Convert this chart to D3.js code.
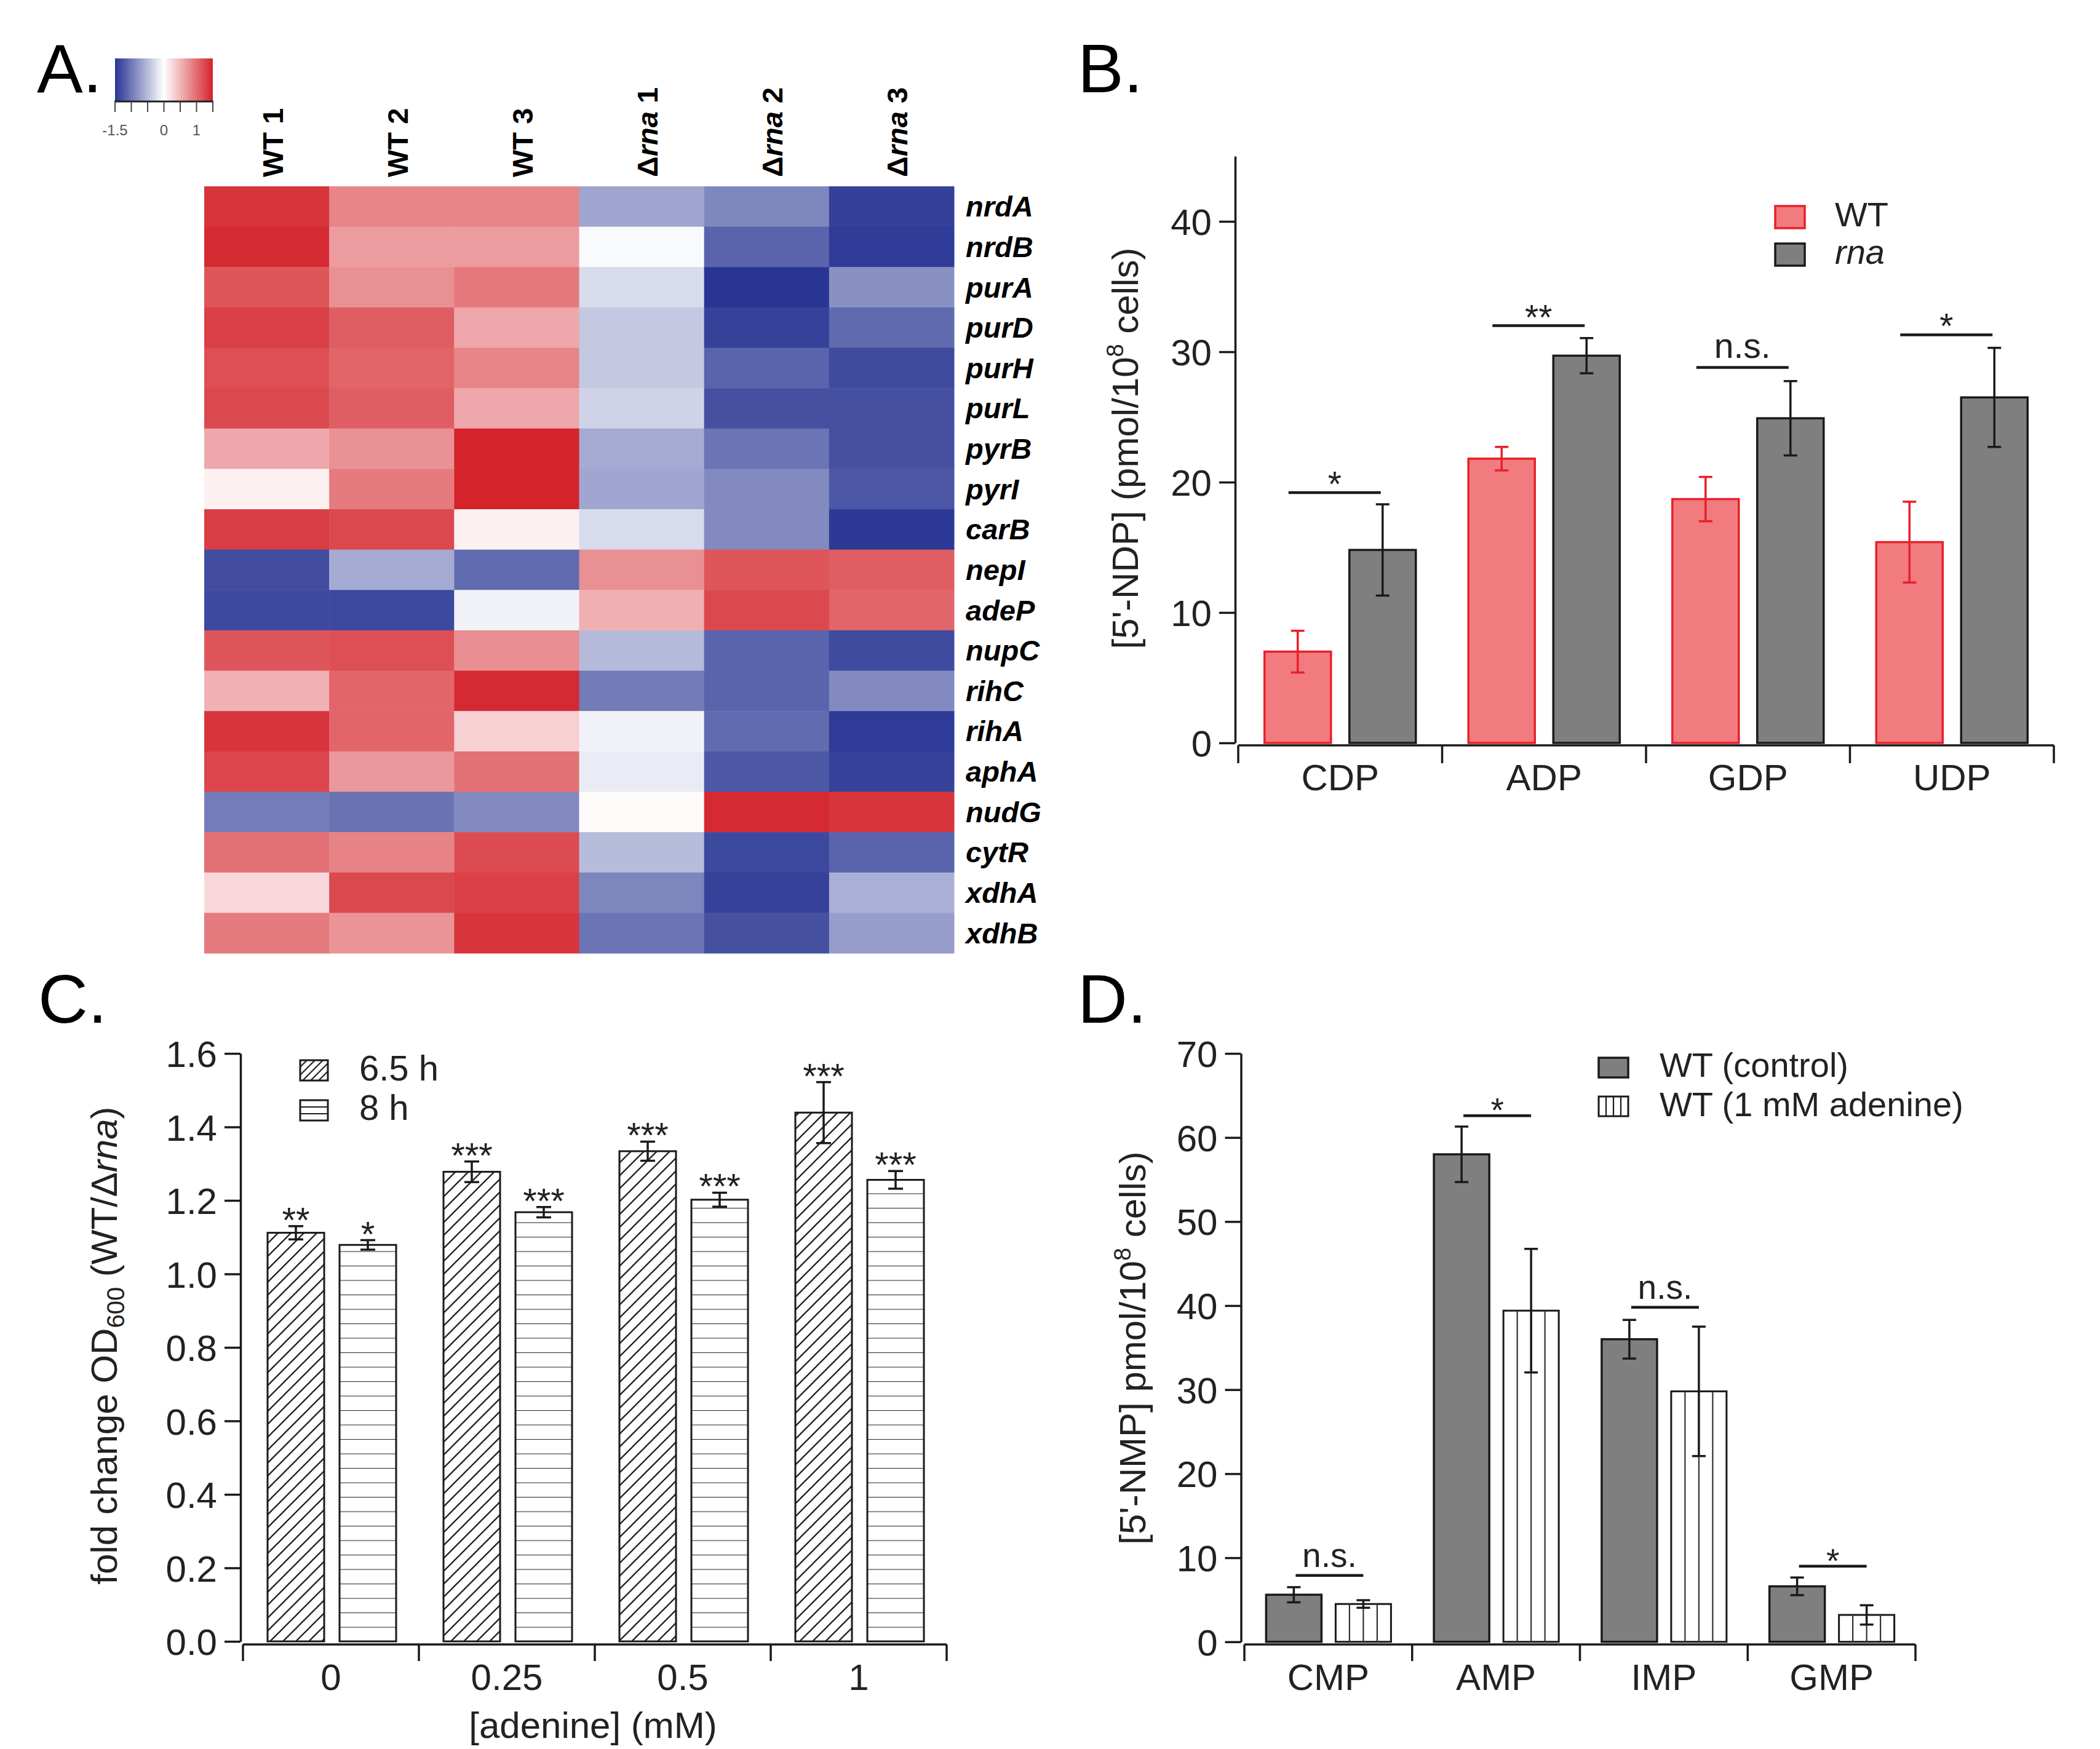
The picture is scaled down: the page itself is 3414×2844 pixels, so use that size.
<!DOCTYPE html>
<html><head><meta charset="utf-8">
<script src="https://cdn.jsdelivr.net/npm/d3@7"></script>
<style>body{margin:0;background:#fff}svg{display:block}</style>
</head><body>
<script>
// ---------- DATA ----------
const heatGenes = ["nrdA","nrdB","purA","purD","purH","purL","pyrB","pyrI","carB","nepI","adeP","nupC","rihC","rihA","aphA","nudG","cytR","xdhA","xdhB"];
const heatSamples = ["WT 1","WT 2","WT 3","Δrna 1","Δrna 2","Δrna 3"];
const heatValues = [
  [1.38,0.83,0.83,-0.67,-0.89,-1.41],
  [1.45,0.68,0.68,-0.04,-1.15,-1.45],
  [1.16,0.76,0.92,-0.27,-1.50,-0.82],
  [1.30,1.10,0.60,-0.41,-1.40,-1.11],
  [1.20,1.06,0.83,-0.41,-1.15,-1.34],
  [1.25,1.10,0.60,-0.33,-1.30,-1.30],
  [0.59,0.75,1.50,-0.63,-1.03,-1.30],
  [0.10,0.90,1.50,-0.66,-0.87,-1.25],
  [1.32,1.25,0.10,-0.27,-0.87,-1.47],
  [-1.32,-0.63,-1.10,0.76,1.16,1.10],
  [-1.35,-1.35,-0.10,0.54,1.25,1.05],
  [1.15,1.20,0.77,-0.51,-1.15,-1.34],
  [0.53,1.05,1.45,-0.98,-1.15,-0.87],
  [1.38,1.05,0.32,-0.10,-1.10,-1.45],
  [1.27,0.70,0.97,-0.15,-1.25,-1.40],
  [-0.97,-1.04,-0.87,0.03,1.45,1.38],
  [0.97,0.85,1.22,-0.50,-1.35,-1.15],
  [0.27,1.25,1.30,-0.90,-1.40,-0.59],
  [0.90,0.73,1.38,-1.03,-1.30,-0.73]
];
const colorTicks = [-1.5,-1,-0.5,0,0.5,1,1.5];
const colorTickLabels = [-1.5,0,1];

const ndpCats = ["CDP","ADP","GDP","UDP"];
const ndpWT = [7.0,21.8,18.7,15.4];
const ndpWTErr = [1.6,0.9,1.7,3.1];
const ndpRna = [14.8,29.7,24.9,26.5];
const ndpRnaErr = [3.5,1.35,2.85,3.8];
const ndpSig = ["*","**","n.s.","*"];
const ndpSigY = [19.2,32.0,28.8,31.3];
const ndpTicks = [0,10,20,30,40];

const adenineCats = ["0","0.25","0.5","1"];
const od65 = [1.112,1.278,1.334,1.439];
const od65Err = [0.018,0.028,0.026,0.083];
const od8 = [1.079,1.168,1.202,1.256];
const od8Err = [0.013,0.014,0.019,0.024];
const od65Sig = ["**","***","***","***"];
const od8Sig = ["*","***","***","***"];
const odTicks = [0,0.2,0.4,0.6,0.8,1.0,1.2,1.4,1.6];

const nmpCats = ["CMP","AMP","IMP","GMP"];
const nmpCtrl = [5.6,58.0,36.0,6.6];
const nmpCtrlErr = [0.9,3.3,2.3,1.05];
const nmpAde = [4.5,39.4,29.8,3.2];
const nmpAdeErr = [0.45,7.35,7.7,1.15];
const nmpSig = ["n.s.","*","n.s.","*"];
const nmpSigY = [7.9,62.6,39.8,9.0];
const nmpTicks = [0,10,20,30,40,50,60,70];

// ---------- SETUP ----------
const FONT = "'Liberation Sans', Arial, Helvetica, sans-serif";
const INK = "#1a1a1a";
const svg = d3.select("body").append("svg").attr("width",3414).attr("height",2844)
  .style("font-family",FONT);
const defs = svg.append("defs");

function panelLabel(t,x,y){
  svg.append("text").attr("x",x).attr("y",y).attr("font-size",112).attr("fill","#000").text(t);
}
panelLabel("A.",60,150); panelLabel("B.",1752,150); panelLabel("C.",62,1663); panelLabel("D.",1752,1663);

// ---------- PANEL A ----------
const color = d3.scaleLinear().domain([-1.5,0,1.5]).range(["#283593","#ffffff","#d4232a"]);
const hx = d3.scaleBand().domain(heatSamples).range([332,1551]);
const hy = d3.scaleBand().domain(heatGenes).range([303,1550]);
const gA = svg.append("g");
heatValues.forEach((row,i)=>{
  gA.selectAll(null).data(row).join("rect")
    .attr("x",(d,j)=>hx(heatSamples[j])).attr("y",hy(heatGenes[i]))
    .attr("width",hx.bandwidth()+0.5).attr("height",hy.bandwidth()+0.5)
    .attr("fill",d=>color(d));
});
gA.selectAll(".gene").data(heatGenes).join("text")
  .attr("x",1570).attr("y",d=>hy(d)+hy.bandwidth()/2).attr("dy","0.35em")
  .attr("font-size",47).attr("font-weight","bold").attr("font-style","italic").text(d=>d);
heatSamples.forEach(s=>{
  const cx = hx(s)+hx.bandwidth()/2 + 26;
  const t = gA.append("text").attr("transform",`translate(${cx},288) rotate(-90)`)
    .attr("font-size",47).attr("font-weight","bold");
  if(s.startsWith("Δ")){
    const parts = s.split(" ");
    t.append("tspan").text("Δ");
    t.append("tspan").attr("font-style","italic").text(parts[0].slice(1));
    t.append("tspan").text(" "+parts[1]);
  } else t.text(s);
});
// colorbar
const cb = d3.scaleLinear().domain([-1.5,1.5]).range([187,346]);
const grad = defs.append("linearGradient").attr("id","cbgrad");
d3.range(0,1.0001,0.05).forEach(f=>{
  grad.append("stop").attr("offset",f).attr("stop-color",color(-1.5+3*f));
});
gA.append("rect").attr("x",187).attr("y",95).attr("width",159).attr("height",70).attr("fill","url(#cbgrad)");
gA.append("line").attr("x1",186).attr("x2",347).attr("y1",165).attr("y2",165).attr("stroke","#222").attr("stroke-width",3);
gA.selectAll(".cbt").data(colorTicks).join("line")
  .attr("x1",d=>cb(d)).attr("x2",d=>cb(d)).attr("y1",165).attr("y2",182)
  .attr("stroke","#444").attr("stroke-width",2);
gA.selectAll(".cbl").data(colorTickLabels).join("text")
  .attr("x",d=>cb(d)).attr("y",220).attr("text-anchor","middle")
  .attr("font-size",24).attr("fill","#555").text(d=>d);

// ---------- helpers ----------
function yAxis(scale,x,ticks,fmt){
  const g = svg.append("g").attr("transform",`translate(${x},0)`)
    .call(d3.axisLeft(scale).tickValues(ticks).tickSize(26).tickSizeOuter(0).tickPadding(12).tickFormat(fmt));
  g.select(".domain").attr("stroke",INK).attr("stroke-width",3.5);
  g.selectAll(".tick line").attr("stroke",INK).attr("stroke-width",3.5);
  g.selectAll(".tick text").attr("font-size",60).attr("font-family",FONT).attr("fill","#222").attr("dy","0.36em");
  return g;
}
function xAxis(band,y,tickLen,labelY){
  const [r0,r1] = band.range();
  svg.append("line").attr("x1",r0).attr("x2",r1).attr("y1",y).attr("y2",y).attr("stroke",INK).attr("stroke-width",3.5);
  const bounds = band.domain().map(c=>band(c)).concat([r1]);
  svg.selectAll(null).data(bounds).join("line")
    .attr("x1",d=>d).attr("x2",d=>d).attr("y1",y).attr("y2",y+tickLen)
    .attr("stroke",INK).attr("stroke-width",3.5);
  svg.selectAll(null).data(band.domain()).join("text")
    .attr("x",d=>band(d)+band.bandwidth()/2).attr("y",labelY).attr("text-anchor","middle")
    .attr("font-size",60).attr("fill","#222").text(d=>d);
}
function errBars(xs,vals,errs,scale,col,cap){
  vals.forEach((v,i)=>{
    const g = svg.append("g").attr("stroke",col).attr("stroke-width",3.5);
    const x = xs[i], y1 = scale(v+errs[i]), y0 = scale(v-errs[i]);
    g.append("line").attr("x1",x).attr("x2",x).attr("y1",y1).attr("y2",y0);
    g.append("line").attr("x1",x-cap/2).attr("x2",x+cap/2).attr("y1",y1).attr("y2",y1);
    g.append("line").attr("x1",x-cap/2).attr("x2",x+cap/2).attr("y1",y0).attr("y2",y0);
  });
}
function rotLabel(x,y,build){
  const t = svg.append("text").attr("transform",`translate(${x},${y}) rotate(-90)`)
    .attr("text-anchor","middle").attr("font-size",60).attr("fill","#222");
  build(t);
}

// ---------- PANEL B ----------
const yB = d3.scaleLinear().domain([0,45]).range([1208,254]);
const xB = d3.scaleBand().domain(ndpCats).range([2013,3339]);
const cB = c=>xB(c)+xB.bandwidth()/2;
const wB = 108;
yAxis(yB,2008,ndpTicks,d3.format("d"));
xAxis(xB,1212,29,1285);
svg.selectAll(null).data(ndpWT).join("rect")
  .attr("x",(d,i)=>cB(ndpCats[i])-69-wB/2).attr("width",wB)
  .attr("y",d=>yB(d)).attr("height",d=>yB(0)-yB(d))
  .attr("fill","#f27b7f").attr("stroke","#e8202a").attr("stroke-width",3.5);
svg.selectAll(null).data(ndpRna).join("rect")
  .attr("x",(d,i)=>cB(ndpCats[i])+69-wB/2).attr("width",wB)
  .attr("y",d=>yB(d)).attr("height",d=>yB(0)-yB(d))
  .attr("fill","#7f7f7f").attr("stroke",INK).attr("stroke-width",3.5);
errBars(ndpCats.map(c=>cB(c)-69),ndpWT,ndpWTErr,yB,"#e8202a",22);
errBars(ndpCats.map(c=>cB(c)+69),ndpRna,ndpRnaErr,yB,INK,22);
ndpCats.forEach((c,i)=>{
  const cx = cB(c)-9, y = yB(ndpSigY[i]);
  svg.append("line").attr("x1",cx-75).attr("x2",cx+75).attr("y1",y).attr("y2",y).attr("stroke",INK).attr("stroke-width",4.5);
  const ns = ndpSig[i]==="n.s.";
  svg.append("text").attr("x",cx).attr("y",ns? y-15 : y+6).attr("text-anchor","middle")
    .attr("font-size",57).attr("fill","#222").text(ndpSig[i]);
});
// legend B
svg.append("rect").attr("x",2886).attr("y",335).attr("width",48).attr("height",36).attr("fill","#f27b7f").attr("stroke","#e8202a").attr("stroke-width",3.5);
svg.append("rect").attr("x",2886).attr("y",396).attr("width",48).attr("height",36).attr("fill","#7f7f7f").attr("stroke",INK).attr("stroke-width",3.5);
svg.append("text").attr("x",2983).attr("y",368).attr("font-size",56).attr("fill","#222").text("WT");
svg.append("text").attr("x",2983).attr("y",429).attr("font-size",56).attr("font-style","italic").attr("fill","#222").text("rna");
rotLabel(1850,729,t=>{
  t.append("tspan").text("[5'-NDP] (pmol/10");
  t.append("tspan").attr("font-size",38).attr("dy",-24).text("8");
  t.append("tspan").attr("dy",24).text(" cells)");
});

// ---------- PANEL C ----------
const yC = d3.scaleLinear().domain([0,1.6]).range([2669,1713]);
const xC = d3.scaleBand().domain(adenineCats).range([395,1539]);
const cC = c=>xC(c)+xC.bandwidth()/2;
const wC = 92;
// patterns
const pd = defs.append("pattern").attr("id","diag").attr("patternUnits","userSpaceOnUse").attr("width",21).attr("height",21);
pd.append("rect").attr("width",21).attr("height",21).attr("fill","#fff");
pd.append("path").attr("d","M0,21 L21,0 M-6,6 L6,-6 M15,27 L27,15").attr("stroke","#222").attr("stroke-width",2.3);
const pdS = defs.append("pattern").attr("id","diagS").attr("patternUnits","userSpaceOnUse").attr("width",13).attr("height",13);
pdS.append("rect").attr("width",13).attr("height",13).attr("fill","#fff");
pdS.append("path").attr("d","M0,13 L13,0 M-4,4 L4,-4 M9,17 L17,9").attr("stroke","#222").attr("stroke-width",2.2);
const ph = defs.append("pattern").attr("id","horiz").attr("patternUnits","userSpaceOnUse").attr("width",10).attr("height",23.5).attr("y",2669);
ph.append("rect").attr("width",10).attr("height",23.5).attr("fill","#fff");
ph.append("line").attr("x1",0).attr("x2",10).attr("y1",0).attr("y2",0).attr("stroke","#333").attr("stroke-width",2.2);

yAxis(yC,391,odTicks,d3.format(".1f"));
xAxis(xC,2674,27,2748);
svg.selectAll(null).data(od65).join("rect")
  .attr("x",(d,i)=>cC(adenineCats[i])-57-wC/2).attr("width",wC)
  .attr("y",d=>yC(d)).attr("height",d=>yC(0)-yC(d))
  .attr("fill","url(#diag)").attr("stroke",INK).attr("stroke-width",3);
svg.selectAll(null).data(od8).join("rect")
  .attr("x",(d,i)=>cC(adenineCats[i])+60-wC/2).attr("width",wC)
  .attr("y",d=>yC(d)).attr("height",d=>yC(0)-yC(d))
  .attr("fill","url(#horiz)").attr("stroke",INK).attr("stroke-width",3);
errBars(adenineCats.map(c=>cC(c)-57),od65,od65Err,yC,INK,24);
errBars(adenineCats.map(c=>cC(c)+60),od8,od8Err,yC,INK,24);
svg.selectAll(null).data(od65Sig).join("text")
  .attr("x",(d,i)=>cC(adenineCats[i])-57).attr("y",(d,i)=>yC(od65[i]+od65Err[i])+10)
  .attr("text-anchor","middle").attr("font-size",58).attr("fill","#222").text(d=>d);
svg.selectAll(null).data(od8Sig).join("text")
  .attr("x",(d,i)=>cC(adenineCats[i])+60).attr("y",(d,i)=>yC(od8[i]+od8Err[i])+10)
  .attr("text-anchor","middle").attr("font-size",58).attr("fill","#222").text(d=>d);
// legend C
svg.append("rect").attr("x",488).attr("y",1724).attr("width",45).attr("height",33).attr("fill","url(#diagS)").attr("stroke",INK).attr("stroke-width",3);
svg.append("rect").attr("x",488).attr("y",1789).attr("width",45).attr("height",33).attr("fill","#fff").attr("stroke",INK).attr("stroke-width",3);
[1/3,2/3].forEach(f=>svg.append("line").attr("x1",488).attr("x2",533).attr("y1",1789+33*f).attr("y2",1789+33*f).attr("stroke",INK).attr("stroke-width",2.2));
svg.append("text").attr("x",584).attr("y",1757).attr("font-size",58).attr("fill","#222").text("6.5 h");
svg.append("text").attr("x",584).attr("y",1821).attr("font-size",58).attr("fill","#222").text("8 h");
svg.append("text").attr("x",964).attr("y",2826).attr("text-anchor","middle").attr("font-size",60).attr("fill","#222").text("[adenine] (mM)");
rotLabel(190,2188,t=>{
  t.append("tspan").text("fold change OD");
  t.append("tspan").attr("font-size",40).attr("dy",12).text("600");
  t.append("tspan").attr("dy",-12).text(" (WT/Δ");
  t.append("tspan").attr("font-style","italic").text("rna");
  t.append("tspan").text(")");
});

// ---------- PANEL D ----------
const yD = d3.scaleLinear().domain([0,70]).range([2669.7,1713]);
const xD = d3.scaleBand().domain(nmpCats).range([2023,3114]);
const cD = c=>xD(c)+xD.bandwidth()/2;
const wD = 90;
yAxis(yD,2017.5,nmpTicks,d3.format("d"));
xAxis(xD,2674,27,2748);
svg.selectAll(null).data(nmpCtrl).join("rect")
  .attr("x",(d,i)=>cD(nmpCats[i])-56-wD/2).attr("width",wD)
  .attr("y",d=>yD(d)).attr("height",d=>yD(0)-yD(d))
  .attr("fill","#7f7f7f").attr("stroke",INK).attr("stroke-width",3.5);
const adeBars = svg.selectAll(null).data(nmpAde).join("g");
adeBars.append("rect")
  .attr("x",(d,i)=>cD(nmpCats[i])+57-wD/2).attr("width",wD)
  .attr("y",d=>yD(d)).attr("height",d=>yD(0)-yD(d))
  .attr("fill","#fff").attr("stroke",INK).attr("stroke-width",3);
adeBars.each(function(d,i){
  const x0 = cD(nmpCats[i])+57-wD/2;
  d3.select(this).selectAll("line").data([1,2,3]).join("line")
    .attr("x1",k=>x0+wD*k/4).attr("x2",k=>x0+wD*k/4)
    .attr("y1",yD(d)).attr("y2",yD(0))
    .attr("stroke","#333").attr("stroke-width",2.2);
});
errBars(nmpCats.map(c=>cD(c)-56),nmpCtrl,nmpCtrlErr,yD,INK,22);
errBars(nmpCats.map(c=>cD(c)+57),nmpAde,nmpAdeErr,yD,INK,22);
nmpCats.forEach((c,i)=>{
  const cx = cD(c)+2, y = yD(nmpSigY[i]);
  svg.append("line").attr("x1",cx-55).attr("x2",cx+55).attr("y1",y).attr("y2",y).attr("stroke",INK).attr("stroke-width",4.5);
  const ns = nmpSig[i]==="n.s.";
  svg.append("text").attr("x",cx).attr("y",ns? y-14 : y+10).attr("text-anchor","middle")
    .attr("font-size",55).attr("fill","#222").text(nmpSig[i]);
});
// legend D
svg.append("rect").attr("x",2599).attr("y",1720).attr("width",48).attr("height",32).attr("fill","#7f7f7f").attr("stroke",INK).attr("stroke-width",3.5);
svg.append("rect").attr("x",2599).attr("y",1783).attr("width",48).attr("height",32).attr("fill","#fff").attr("stroke",INK).attr("stroke-width",3);
[1,2,3].forEach(k=>svg.append("line").attr("x1",2599+12*k).attr("x2",2599+12*k).attr("y1",1783).attr("y2",1815).attr("stroke",INK).attr("stroke-width",2.2));
svg.append("text").attr("x",2698).attr("y",1751).attr("font-size",56).attr("fill","#222").text("WT (control)");
svg.append("text").attr("x",2698).attr("y",1815).attr("font-size",56).attr("fill","#222").text("WT (1 mM adenine)");
rotLabel(1862,2192,t=>{
  t.append("tspan").text("[5'-NMP] pmol/10");
  t.append("tspan").attr("font-size",38).attr("dy",-24).text("8");
  t.append("tspan").attr("dy",24).text(" cells)");
});
</script>
</body></html>
